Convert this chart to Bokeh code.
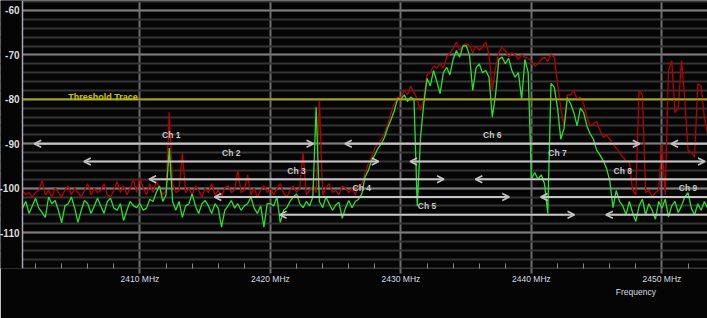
import numpy as np
from bokeh.plotting import figure
from bokeh.models import (Range1d, SingleIntervalTicker, FixedTicker, LinearAxis,
                          Span, Label, Arrow, OpenHead, ColumnDataSource, BoxAnnotation)
from bokeh.core.properties import value
from bokeh.embed import file_html
from bokeh.resources import INLINE

# ---------------- data ----------------
freq_start = 2401.0   # MHz, first sweep bin
freq_step = 0.25      # MHz per sweep bin

# max-hold trace (dBm), one row per MHz (4 bins)
red_trace = [
    -100.5, -101.5, -101.0, -102.0,   # 2401
    -101.0, -100.5, -98.3, -101.5,    # 2402
    -100.5, -102.0, -100.0, -101.0,   # 2403
    -102.0, -100.5, -99.5, -101.5,    # 2404
    -100.0, -101.0, -102.0, -100.5,   # 2405
    -99.0, -101.5, -100.0, -101.0,    # 2406
    -100.5, -99.0, -101.5, -102.0,    # 2407
    -100.5, -98.5, -101.0, -99.5,     # 2408
    -101.5, -100.0, -98.0, -101.0,    # 2409
    -97.5, -100.0, -101.5, -99.0,     # 2410
    -101.0, -98.5, -100.0, -101.5,    # 2411
    -100.5, -83.0, -99.0, -101.0,     # 2412
    -100.5, -92.0, -101.0, -100.0,    # 2413
    -101.5, -99.5, -100.5, -102.0,    # 2414
    -100.0, -101.0, -99.0, -101.5,    # 2415
    -100.5, -102.0, -100.0, -99.5,    # 2416
    -101.0, -100.5, -96.0, -101.0,    # 2417
    -100.5, -97.0, -101.5, -100.0,    # 2418
    -102.0, -100.5, -99.5, -101.0,    # 2419
    -100.0, -101.5, -100.0, -99.0,    # 2420
    -101.0, -102.0, -100.5, -99.5,    # 2421
    -101.0, -100.0, -92.0, -101.5,    # 2422
    -100.5, -99.5, -101.0, -80.3,     # 2423
    -101.5, -100.0, -99.0, -101.0,    # 2424
    -100.5, -101.5, -99.5, -100.0,    # 2425
    -101.0, -100.0, -101.5, -99.5,    # 2426
    -99.0, -96.5, -94.5, -93.0,       # 2427
    -91.0, -90.0, -89.0, -87.5,       # 2428
    -85.5, -83.0, -81.0, -79.5,       # 2429
    -79.6, -78.0, -79.0, -77.0,       # 2430
    -78.5, -80.0, -82.5, -80.0,       # 2431
    -74.5, -74.0, -72.5, -73.0,       # 2432
    -72.0, -73.0, -70.5, -69.7,       # 2433
    -68.5, -67.1, -69.0, -67.8,       # 2434
    -67.5, -67.9, -69.5, -68.0,       # 2435
    -69.0, -68.2, -67.1, -70.0,       # 2436
    -78.0, -73.0, -69.5, -68.3,       # 2437
    -69.0, -70.5, -69.5, -70.0,       # 2438
    -71.0, -70.0, -70.5, -70.8,       # 2439
    -71.3, -72.5, -72.0, -71.0,       # 2440
    -70.5, -71.5, -70.0, -70.5,       # 2441
    -76.5, -82.0, -86.0, -79.0,       # 2442
    -79.0, -78.0, -80.0, -79.5,       # 2443
    -81.0, -84.0, -86.0, -85.5,       # 2444
    -85.0, -87.0, -88.6, -88.0,       # 2445
    -89.0, -90.0, -91.0, -92.0,       # 2446
    -93.0, -93.8, -94.0, -100.5,      # 2447
    -101.5, -78.0, -79.0, -101.0,     # 2448
    -100.5, -102.0, -101.0, -100.5,   # 2449
    -90.0, -101.5, -73.5, -71.3,      # 2450
    -83.0, -82.0, -71.3, -80.0,       # 2451
    -91.5, -92.0, -93.0, -76.5,       # 2452
    -77.0, -84.0, -88.0,              # 2453
]

# live trace (dBm)
green_trace = [
    -104.5, -103.0, -105.7, -104.0,   # 2401
    -102.3, -104.5, -105.5, -106.6,   # 2402
    -102.0, -103.5, -102.8, -105.0,   # 2403
    -107.8, -104.0, -103.5, -102.0,   # 2404
    -104.5, -107.7, -105.0, -102.8,   # 2405
    -103.5, -105.7, -104.0, -102.3,   # 2406
    -104.0, -105.7, -103.0, -102.3,   # 2407
    -104.5, -105.0, -103.5, -107.3,   # 2408
    -105.0, -103.0, -104.0, -104.4,   # 2409
    -103.5, -105.0, -104.5, -102.5,   # 2410
    -103.0, -101.0, -99.5, -103.0,    # 2411
    -101.5, -91.0, -103.0, -105.0,    # 2412
    -103.0, -106.6, -104.0, -103.5,   # 2413
    -101.3, -104.0, -105.7, -103.5,   # 2414
    -102.8, -104.0, -105.7, -103.5,   # 2415
    -104.5, -108.8, -105.0, -104.0,   # 2416
    -102.8, -104.5, -103.5, -105.0,   # 2417
    -104.0, -103.5, -102.0, -104.5,   # 2418
    -105.7, -104.0, -108.8, -103.5,   # 2419
    -103.5, -104.0, -102.0, -107.7,   # 2420
    -105.0, -104.4, -103.0, -102.0,   # 2421
    -101.3, -103.5, -104.4, -103.0,   # 2422
    -104.0, -102.0, -81.8, -103.0,    # 2423
    -104.4, -102.0, -103.5, -105.0,   # 2424
    -103.8, -103.2, -106.8, -104.5,   # 2425
    -102.8, -104.4, -103.0, -102.5,   # 2426
    -101.3, -97.5, -96.0, -93.8,      # 2427
    -92.5, -91.0, -90.0, -88.5,       # 2428
    -86.3, -84.5, -82.5, -79.8,       # 2429
    -80.0, -79.0, -80.5, -79.5,       # 2430
    -80.0, -104.0, -88.6, -81.0,      # 2431
    -75.3, -77.0, -73.5, -76.0,       # 2432
    -78.7, -74.0, -72.8, -74.5,       # 2433
    -71.0, -69.0, -70.5, -68.0,       # 2434
    -67.9, -70.0, -78.0, -73.0,       # 2435
    -72.0, -74.0, -73.5, -75.0,       # 2436
    -84.0, -79.0, -71.0, -70.5,       # 2437
    -72.0, -70.8, -73.5, -75.0,       # 2438
    -74.0, -80.0, -71.0, -74.0,       # 2439
    -98.0, -96.5, -98.0, -97.0,       # 2440
    -99.0, -105.7, -76.4, -77.3,      # 2441
    -82.0, -89.0, -86.5, -79.6,       # 2442
    -81.0, -83.0, -86.0, -82.0,       # 2443
    -83.0, -86.0, -87.8, -89.0,       # 2444
    -91.5, -92.5, -93.8, -95.5,       # 2445
    -98.3, -104.4, -100.5, -103.0,    # 2446
    -104.0, -106.0, -103.0, -105.5,   # 2447
    -107.5, -104.0, -102.5, -106.0,   # 2448
    -103.5, -105.0, -107.0, -103.0,   # 2449
    -104.5, -102.5, -106.5, -104.0,   # 2450
    -103.0, -105.5, -104.0, -102.0,   # 2451
    -101.0, -104.5, -106.0, -103.5,   # 2452
    -105.0, -103.0, -104.5,           # 2453
]

threshold_level = -80.0
threshold_label = "Threshold Trace"

# Wi-Fi channels: names, label position, arrow extent and arrow row level
channel_names = ["Ch 1", "Ch 2", "Ch 3", "Ch 4", "Ch 5", "Ch 6", "Ch 7", "Ch 8", "Ch 9"]
channel_centers = [2412.4, 2417, 2422, 2427, 2432, 2437, 2442, 2447, 2452]
arrow_starts = [2401.9, 2405.7, 2410.7, 2415.7, 2420.7, 2425.7,
                2430.7, 2435.7, 2440.7, 2445.7, 2450.7]
arrow_ends = [2423.3, 2428.3, 2433.3, 2438.3, 2443.3, 2448.3,
              2453.3, 2458.3, 2463.3, 2468.3, 2473.3]
arrow_levels = [-90, -94, -98, -102, -106, -90, -94, -98, -102, -106, -90]

x_tick_values = [2410, 2420, 2430, 2440, 2450]
x_tick_labels = ["2410 MHz", "2420 MHz", "2430 MHz", "2440 MHz", "2450 MHz"]
x_minor_ticks = [2402, 2404, 2406, 2408, 2412, 2414, 2416, 2418, 2422, 2424, 2426,
                 2428, 2432, 2434, 2436, 2438, 2442, 2444, 2446, 2448, 2452]
x_axis_title = "Frequency"
x_axis_title_pos = 2448.0

y_tick_values = [-60, -70, -80, -90, -100, -110]
y_tick_labels = ["-60", "-70", "-80", "-90", "-100", "-110"]

# ---------------- figure ----------------
BG = "#050505"
PX_PER_MHZ = 13.05
X_LEFT_EDGE = 2401.0                           # left edge of the plotting area
X_LABEL_AREA = X_LEFT_EDGE - 22 / PX_PER_MHZ   # 22 px strip for dB labels
Y_LABEL_X = X_LABEL_AREA + 19 / PX_PER_MHZ

freqs = freq_start + freq_step * np.arange(len(red_trace))
freqs_g = freq_start + freq_step * np.arange(len(green_trace))

p = figure(width=707, height=318,
           x_range=Range1d(X_LABEL_AREA, X_LABEL_AREA + 707 / PX_PER_MHZ),
           y_range=Range1d(-118.1, -57.75),
           y_axis_location=None,
           output_backend="svg", toolbar_location=None,
           background_fill_color=BG, border_fill_color=BG,
           min_border_left=0, min_border_right=0, min_border_top=0,
           min_border_bottom=50, outline_line_color=None)

# x axis
p.xaxis.ticker = FixedTicker(ticks=x_tick_values, minor_ticks=x_minor_ticks)
p.xaxis.major_label_overrides = dict(zip(x_tick_values, x_tick_labels))
p.xaxis.axis_line_color = None
p.xaxis.major_tick_in = 0
p.xaxis.major_tick_out = 5
p.xaxis.major_tick_line_color = "#6e6e6e"
p.xaxis.major_tick_line_width = 2
p.xaxis.minor_tick_in = 5
p.xaxis.minor_tick_out = 0
p.xaxis.minor_tick_line_color = "#8a8a8a"
p.xaxis.major_label_standoff = 0
p.xaxis.axis_label_standoff = 0
p.xaxis.major_label_text_font = "Liberation Sans"
p.xaxis.major_label_text_font_size = "8.5px"
p.xaxis.major_label_text_color = "#d8dce4"

# second, label-only axis carrying the "Frequency" title at the bottom right
title_axis = LinearAxis(ticker=FixedTicker(ticks=[x_axis_title_pos]),
                        major_label_overrides={x_axis_title_pos: x_axis_title},
                        axis_line_color=None, major_tick_in=0, major_tick_out=0,
                        minor_tick_in=0, minor_tick_out=0,
                        major_label_standoff=0, axis_label_standoff=0,
                        major_label_text_font="Liberation Sans",
                        major_label_text_font_size="8.5px",
                        major_label_text_color="#d8dce4")
p.add_layout(title_axis, "below")

# grids
p.xgrid.ticker = FixedTicker(ticks=x_tick_values)
p.xgrid.grid_line_color = "#6e6e6e"
p.xgrid.grid_line_width = 2
p.ygrid.ticker = SingleIntervalTicker(interval=10, num_minor_ticks=5)
p.ygrid.grid_line_color = "#7c7c7c"
p.ygrid.grid_line_width = 2
p.ygrid.minor_grid_line_color = "#353535"
p.ygrid.minor_grid_line_width = 2

# traces
p.line(freqs, red_trace, line_color="#b80000", line_width=1.3)
p.line(freqs_g, green_trace, line_color="#2ee02e", line_width=1.3)

# threshold
p.add_layout(Span(location=threshold_level, dimension="width",
                  line_color="#a8a800", line_width=1.5))
p.add_layout(Label(x=2404.5, y=threshold_level + 0.6, text=threshold_label,
                   text_font="Liberation Sans", text_font_style="bold",
                   text_font_size="9px", text_color="#c8c800",
                   text_baseline="alphabetic", text_align="left"))

# channel arrows
src = ColumnDataSource(dict(x0=arrow_starts, x1=arrow_ends, lv=arrow_levels))
arrow_col = "#c4c4c4"
p.add_layout(Arrow(x_start="x0", y_start="lv", x_end="x1", y_end="lv", source=src,
                   line_color=arrow_col, line_width=2,
                   start=OpenHead(size=7, line_color=arrow_col, line_width=1.5),
                   end=OpenHead(size=7, line_color=arrow_col, line_width=1.5)))

lab_src = ColumnDataSource(dict(x=channel_centers,
                                y=[lv + 1.95 for lv in arrow_levels[:len(channel_names)]],
                                t=channel_names))
p.text(x="x", y="y", text="t", source=lab_src, text_font=value("Liberation Sans"),
       text_font_style="bold", text_font_size="8.5px", text_color="#c8c8c8",
       text_align="center", text_baseline="middle")

# black strip left of the plotting area that holds the dB scale
p.add_layout(BoxAnnotation(right=X_LEFT_EDGE, fill_color=BG, fill_alpha=1.0,
                           line_color=None))
p.add_layout(Span(location=X_LEFT_EDGE, dimension="height",
                  line_color="#a8a8b8", line_width=1.5))
ylab = p.text(x=[Y_LABEL_X] * len(y_tick_values), y=y_tick_values, text=y_tick_labels,
              text_font=value("Liberation Sans"), text_font_style="bold",
              text_font_size="10px", text_color="#dcdcdc",
              text_align="right", text_baseline="middle")
ylab.level = "overlay"

open("out.html", "w").write(file_html(p, INLINE))
